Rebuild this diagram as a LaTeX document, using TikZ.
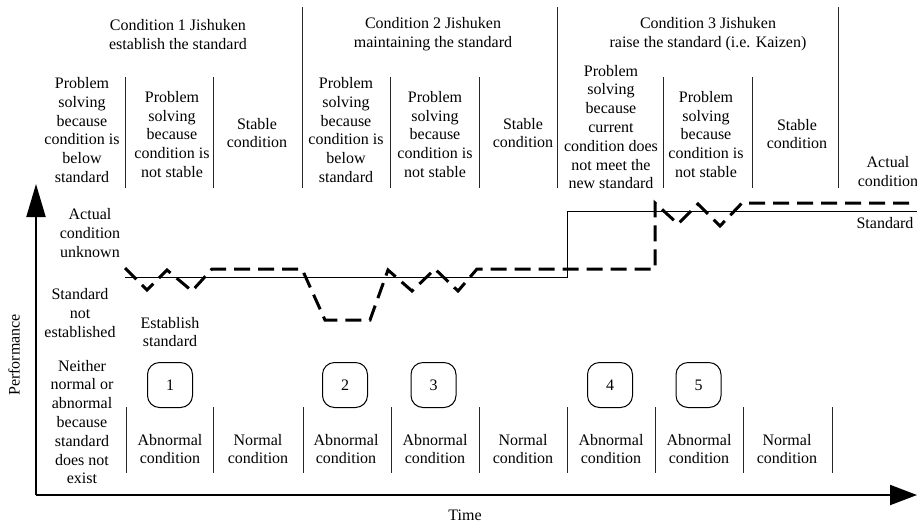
\documentclass[tikz,border=0pt]{standalone}
\usepackage{fontspec}
\setmainfont{Liberation Serif}
\usetikzlibrary{arrows.meta}

\begin{document}
\begin{tikzpicture}[x=1pt,y=-1pt,
  lbl/.style={align=center,inner sep=0pt,font=\fontsize{16}{18.8}\selectfont},
  divider/.style={line width=1pt,black!85},
  numbox/.style={draw,rounded corners=12pt,minimum width=45pt,minimum height=45pt,
                 line width=1pt,inner sep=0pt,font=\fontsize{16}{18.8}\selectfont},
  axis/.style={line width=2pt},
  stdline/.style={line width=1pt},
  actual/.style={line width=3pt,dash pattern=on 16pt off 8pt}]
\useasboundingbox (0,0) rectangle (917,523);

% axes
\coordinate (origin) at (36,495);
\coordinate (ytop) at (36,184);
\coordinate (xend) at (917,495);
\draw[axis,-{Triangle[length=33pt,width=19pt]}] (origin) -- (ytop);
\draw[axis,-{Triangle[length=27pt,width=20pt]}] (origin) -- (xend);
\node[lbl,rotate=90] (perf) at (14,355) {Performance};
\node[lbl] (time) at (465,515) {Time};

% phase dividers (top)
\foreach \x in {302,557,838} \draw[divider] (\x,7) -- (\x,188);
\foreach \x in {125,213,390,479,663,752} \draw[divider] (\x,77) -- (\x,188);
% condition dividers (bottom)
\foreach \x in {126,213,303,391,479,567,655,743,832} \draw[divider] (\x,407) -- (\x,473);

% phase titles
\node[lbl] (ph1) at (178,34.5) {Condition 1 Jishuken\\establish the standard};
\node[lbl] (ph2) at (433,34.5) {Condition 2 Jishuken\\maintaining the standard};
\node[lbl] (ph3) at (708,34.5) {Condition 3 Jishuken\\raise the standard (i.e. Kaizen)};

% column headings
\node[lbl] (c11) at (82,130) {Problem\\solving\\because\\condition is\\below\\standard};
\node[lbl] (c12) at (172,134.5) {Problem\\solving\\because\\condition is\\not stable};
\node[lbl] (c13) at (257,133) {Stable\\condition};
\node[lbl] (c21) at (346,130) {Problem\\solving\\because\\condition is\\below\\standard};
\node[lbl] (c22) at (435,134.5) {Problem\\solving\\because\\condition is\\not stable};
\node[lbl] (c23) at (523,133) {Stable\\condition};
\node[lbl] (c31) at (611,127) {Problem\\solving\\because\\current\\condition does\\not meet the\\new standard};
\node[lbl] (c32) at (706,134.5) {Problem\\solving\\because\\condition is\\not stable};
\node[lbl] (c33) at (797,134) {Stable\\condition};
\node[lbl] (c34) at (888,171.5) {Actual\\condition};

% level labels
\node[lbl] (unknown) at (90,233) {Actual\\condition\\unknown};
\node[lbl] (notest) at (80,313) {Standard\\not\\established};
\node[lbl] (estab) at (170,332) {Establish\\standard};
\node[lbl] (neither) at (82,422) {Neither\\normal or\\abnormal\\because\\standard\\does not\\exist};
\node[lbl] (stdlbl) at (885,223) {Standard};

% standard level
\draw[stdline] (125,277) -- (567,277) -- (567,211) -- (917,211);

% actual performance
\draw[actual,line join=miter] (125,268) -- (147,290) -- (167,270) -- (192,291) -- (212,269)
  -- (302,269) -- (325,320) -- (370,320) -- (388,270) -- (412,291) -- (435,269)
  -- (458,291) -- (477,269) -- (655,269) -- (655,203) -- (678,224) -- (698,204)
  -- (720,226) -- (742,203) -- (917,203);

% numbered events
\node[numbox] (n1) at (170,385) {1};
\node[numbox] (n2) at (345,385) {2};
\node[numbox] (n3) at (433.5,385) {3};
\node[numbox] (n4) at (610,385) {4};
\node[numbox] (n5) at (698.5,385) {5};

% condition classification
\node[lbl] (k1) at (170,449) {Abnormal\\condition};
\node[lbl] (k2) at (258,449) {Normal\\condition};
\node[lbl] (k3) at (346,449) {Abnormal\\condition};
\node[lbl] (k4) at (435,449) {Abnormal\\condition};
\node[lbl] (k5) at (523,449) {Normal\\condition};
\node[lbl] (k6) at (611,449) {Abnormal\\condition};
\node[lbl] (k7) at (699,449) {Abnormal\\condition};
\node[lbl] (k8) at (787,449) {Normal\\condition};
\end{tikzpicture}
\end{document}
